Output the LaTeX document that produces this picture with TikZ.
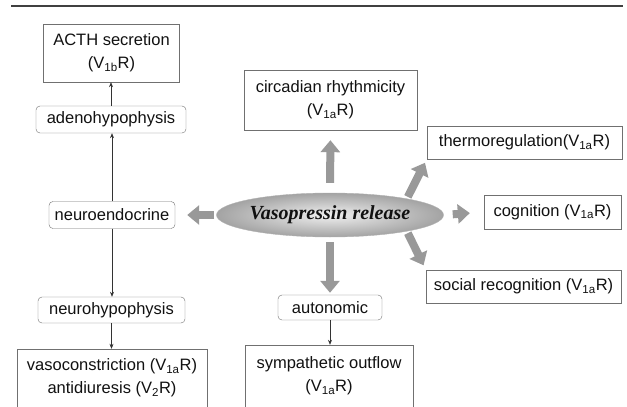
\documentclass[tikz,border=0pt]{standalone}
\usepackage{fontspec}
\setmainfont{Liberation Sans}
\newfontfamily\vpfont{Liberation Serif}
\usetikzlibrary{arrows.meta,positioning,shapes.geometric}
\definecolor{Edge}{HTML}{707070}
\definecolor{Ink}{HTML}{111111}
\definecolor{Fat}{HTML}{999999}
\newcommand{\rcpt}[1]{(V\textsubscript{#1}R)}

\begin{document}
\begin{tikzpicture}[x=1pt,y=-1pt,
    plain/.style={draw=Edge,fill=white,text=Ink,align=center,inner sep=1pt,
      font=\fontsize{16.5}{23}\selectfont},
    soft/.style={plain,rounded corners=4pt},
    thinarr/.style={-{Stealth[length=5pt,width=4pt]},black!80,semithick},
    fatarr/.style={line width=8pt,Fat,-{Triangle[length=12pt,width=19pt]}}
  ]
    \useasboundingbox (0,0) rectangle (627,407);
    \draw[line width=2pt,black!75] (11,6) -- (623,6);
    % left column
    \node[plain,minimum width=136pt,minimum height=58pt] (acth) at (111.5,53)
      {ACTH secretion\\\rcpt{1b}};
    \node[soft,minimum width=150pt,minimum height=27pt] (adeno) at (111,119.5) {adenohypophysis};
    \node[soft,minimum width=126pt,minimum height=27pt] (neuro) at (112,215) {neuroendocrine};
    \node[soft,minimum width=147pt,minimum height=26pt] (neurohyp) at (111.5,310) {neurohypophysis};
    \node[plain,minimum width=190pt,minimum height=58pt] (vaso) at (112,378)
      {vasoconstriction \rcpt{1a}\\antidiuresis \rcpt{2}};
    % centre and right
    \node[ellipse,draw=gray!60,shading=radial,inner color=gray!12,outer color=gray!72,
      minimum width=196pt,minimum height=44pt,inner sep=0pt,text=Ink,
      font=\vpfont\bfseries\itshape\fontsize{20}{24}\selectfont] (vp) at (330,215)
      {Vasopressin release};
    \node[plain,minimum width=173pt,minimum height=60pt] (circ) at (330.5,100)
      {circadian rhythmicity\\\rcpt{1a}};
    \node[plain,minimum width=195pt,minimum height=33pt] (thermo) at (524.5,142.5)
      {thermoregulation\rcpt{1a}};
    \node[plain,minimum width=137pt,minimum height=34pt] (cogn) at (552.5,212)
      {cognition \rcpt{1a}};
    \node[plain,minimum width=195pt,minimum height=33pt] (social) at (523.5,286.5)
      {social recognition \rcpt{1a}};
    \node[soft,minimum width=104pt,minimum height=25pt] (auton) at (330,307.5) {autonomic};
    \node[plain,minimum width=168pt,minimum height=62pt] (symp) at (329,376)
      {sympathetic outflow\\\rcpt{1a}};
    % thin arrows
    \draw[thinarr] (adeno.north) -- (acth.south -| adeno.north);
    \draw[thinarr] (neuro.north) -- (adeno.south -| neuro.north);
    \draw[thinarr] (neuro.south) -- (neurohyp.north -| neuro.south);
    \draw[thinarr] (neurohyp.south) -- (vaso.north -| neurohyp.south);
    \draw[thinarr] (auton.south) -- (symp.north -| auton.south);
    % block arrows
    \draw[fatarr,shorten <=2pt,shorten >=12pt] (vp.west) -- (neuro.east);
    \draw[fatarr,shorten <=10pt,shorten >=10pt] (vp.north) -- (circ.south);
    \draw[fatarr,shorten <=5pt,shorten >=2pt] (vp.south) -- (auton.north);
    \draw[fatarr,shorten <=9pt,shorten >=14pt] (vp.east) -- (cogn.west);
    \draw[fatarr,shorten <=2pt,shorten >=4pt] (vp.12) -- (thermo.south west);
    \draw[fatarr,shorten <=2pt,shorten >=5pt] (vp.-12) -- (social.north west);
  \end{tikzpicture}
\end{document}
